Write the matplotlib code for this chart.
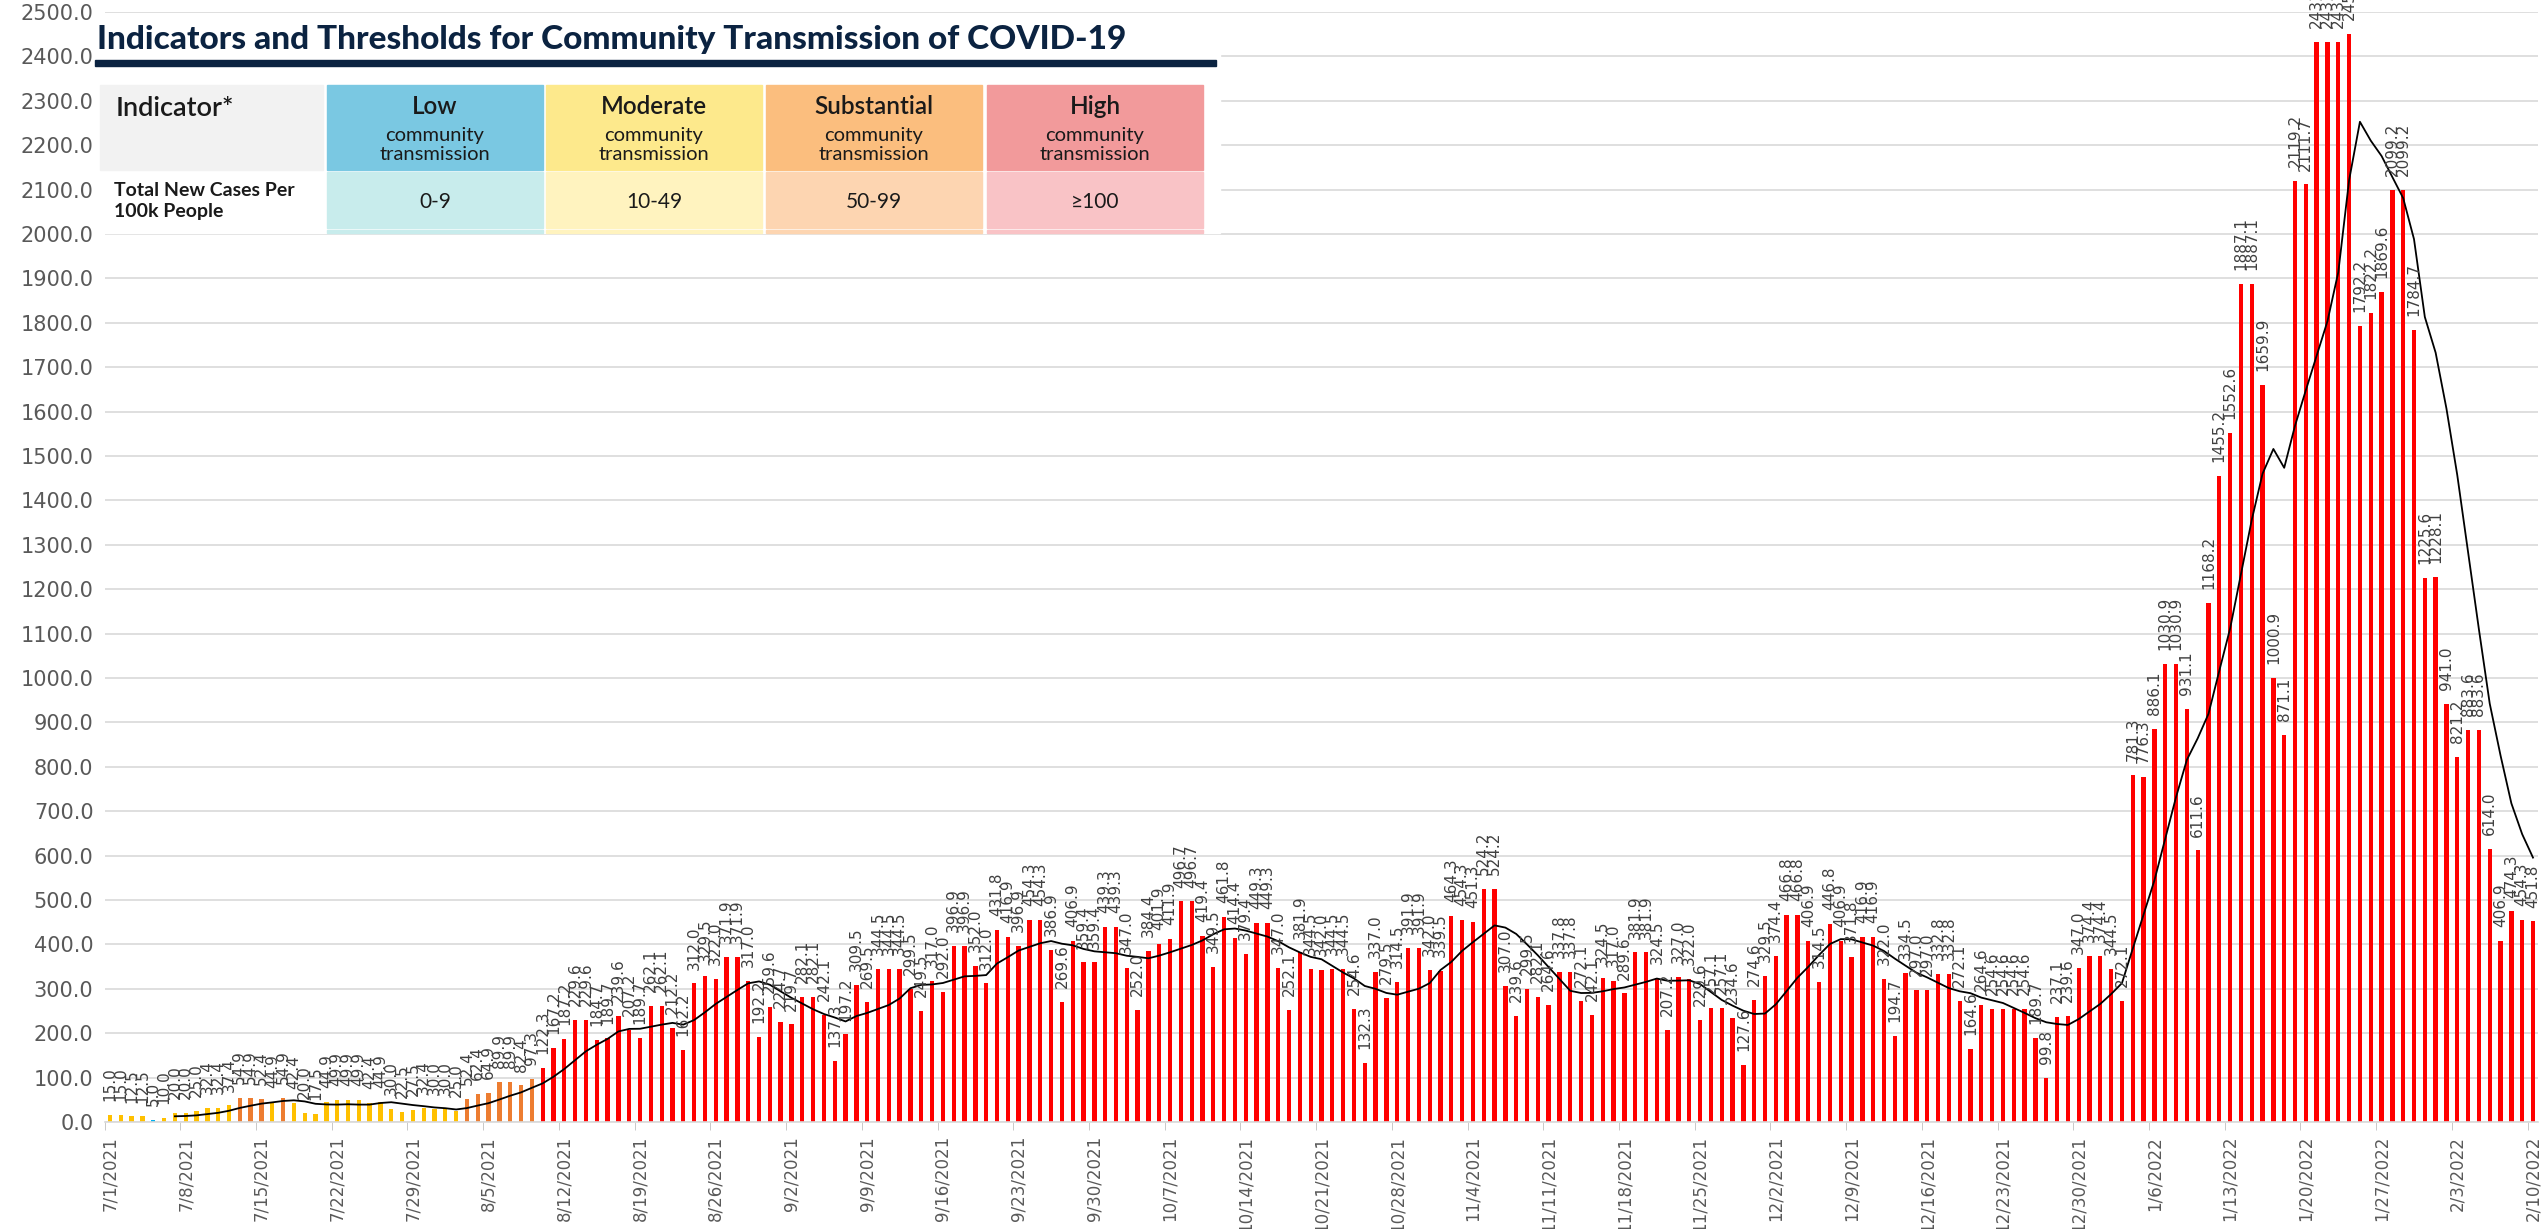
import numpy as np
import pandas as pd
import matplotlib
matplotlib.use('Agg')
import matplotlib.pyplot as plt
from matplotlib.patches import Rectangle

# daily new cases per 100k, 7/1/2021 - 2/10/2022
start_date = '2021-07-01'
end_date = '2022-02-10'
cases = [
    15.0, 15.0, 12.5, 12.5, 5.0, 10.0, 20.0, 20.0, 25.0, 32.4,
    32.4, 37.4, 54.9, 54.9, 52.4, 44.9, 54.9, 42.4, 20.0, 17.5,
    44.9, 49.9, 49.9, 49.9, 42.4, 44.9, 30.0, 22.5, 27.5, 32.4,
    30.0, 30.0, 25.0, 52.4, 62.4, 64.9, 89.9, 89.9, 82.4,
    97.3, 122.3, 167.2, 187.2, 229.6, 229.6, 184.7, 189.7, 239.6, 207.2,
    189.7, 262.1, 262.1, 212.2, 162.2, 312.0, 329.5, 322.0, 371.9, 371.9,
    317.0, 192.2, 259.6, 224.7, 219.7, 282.1, 282.1, 242.1, 137.3, 197.2,
    309.5, 269.5, 344.5, 344.5, 344.5, 299.5, 249.5, 317.0, 292.0, 396.9,
    396.9, 352.0, 312.0, 431.8, 416.9, 396.9, 454.3, 454.3, 386.9, 269.6,
    406.9, 359.4, 359.4, 439.3, 439.3, 347.0, 252.0, 384.4, 401.9, 411.9,
    496.7, 496.7, 419.4, 349.5, 461.8, 414.4, 379.4, 449.3, 449.3, 347.0,
    252.1, 381.9, 344.5, 342.0, 344.5, 344.5, 254.6, 132.3, 337.0, 279.5,
    314.5, 391.9, 391.9, 342.0, 339.5, 464.3, 454.3, 451.3, 524.2, 524.2,
    307.0, 239.6, 299.5, 282.1, 264.6, 337.8, 337.8, 272.1, 242.1, 324.5,
    317.0, 289.6, 381.9, 381.9, 324.5, 207.2, 327.0, 322.0, 229.6, 257.1,
    257.1, 234.6, 127.6, 274.6, 329.5, 374.4, 466.8, 466.8, 406.9, 314.5,
    446.8, 406.9, 371.8, 416.9, 416.9, 322.0, 194.7, 334.5, 297.0, 297.0,
    332.8, 332.8, 272.1, 164.6, 264.6, 254.6, 254.6, 254.6, 254.6, 189.7,
    99.8, 237.1, 239.6, 347.0, 374.4, 374.4, 344.5, 272.1, 781.3, 776.3,
    886.1, 1030.9, 1030.9, 931.1, 611.6, 1168.2, 1455.2, 1552.6, 1887.1, 1887.1,
    1659.9, 1000.9, 871.1, 2119.2, 2111.7, 2431.6, 2431.6, 2431.6, 2451.4, 1792.2,
    1822.2, 1869.6, 2099.2, 2099.2, 1784.7, 1225.6, 1228.1, 941.0, 821.2, 883.6,
    883.6, 614.0, 406.9, 474.3, 454.3, 451.8,
]

levels = ['Low', 'Moderate', 'Substantial', 'High']
level_ranges = ['0-9', '10-49', '50-99', '\u2265100']
head_colors = ['#7ac8e2', '#fde98c', '#fbbe7e', '#f29a9b']
row_colors = ['#c8ecec', '#fff3bf', '#fdd5b1', '#f9c3c6']
bar_colors = ['#00b0f0', '#ffc000', '#ed7d31', '#ff0000']

W, H = 2547, 1229
fig = plt.figure(figsize=(W / 100, H / 100), dpi=100)

dates = pd.date_range(start_date, end_date, freq='D')
x = np.arange(len(cases))
avg7 = pd.Series(cases).rolling(7).mean()


def pick(v):
    if v < 10:
        return bar_colors[0]
    if v < 50:
        return bar_colors[1]
    if v < 99.5:
        return bar_colors[2]
    return bar_colors[3]


ax = fig.add_axes([104.6 / W, 1 - 1122 / H, 2433.8 / W, 1110 / H])
ax.bar(x, cases, width=0.4, color=[pick(v) for v in cases], zorder=2)
ax.plot(x, avg7, color='black', lw=1.3, zorder=3)
for xi, v in zip(x, cases):
    ax.annotate(f'{v:.1f}', (xi, v), xytext=(0, 10), textcoords='offset points',
                rotation=90, ha='center', va='bottom', fontsize=11,
                color='#404040', annotation_clip=False)

ax.set_xlim(-0.5, len(cases) - 0.5)
ax.set_ylim(0, 2500)
ax.set_yticks(np.arange(0, 2501, 100))
ax.set_yticklabels([f'{v:.1f}' for v in np.arange(0, 2501, 100)])
ax.set_xticks(x[::7])
ax.set_xticklabels([f'{d.month}/{d.day}/{d.year}' for d in dates[::7]], rotation=90)
ax.set_xticks(x[::7] - 0.5, minor=True)
ax.tick_params(axis='x', which='major', length=0, labelsize=12, labelcolor='#595959', pad=10)
ax.tick_params(axis='x', which='minor', length=6, color='#bfbfbf')
ax.tick_params(axis='y', length=0, labelsize=15, labelcolor='#595959', pad=8)
ax.yaxis.grid(True, color='#d9d9d9', lw=1.2)
ax.set_axisbelow(True)
for s in ['top', 'right', 'left']:
    ax.spines[s].set_visible(False)
ax.spines['bottom'].set_color('#d9d9d9')
ax.spines['bottom'].set_linewidth(1.2)

# table picture over the top left of the plot
ov = fig.add_axes([0, 0, 1, 1], zorder=5)
ov.set_xlim(0, W)
ov.set_ylim(H, 0)
ov.axis('off')
ov.add_patch(Rectangle((94, 15), 1126, 218, color='white'))
ov.text(97, 40, 'Indicators and Thresholds for Community Transmission of COVID-19',
        family='Lato', fontweight='black', fontsize=24, color='#0b2341', va='center')
ov.add_patch(Rectangle((95, 60), 1121, 6, color='#0b2341'))

ov.add_patch(Rectangle((100, 85), 223, 85, color='#f2f2f2'))
ov.text(116, 108, 'Indicator*', family='Lato', fontweight='semibold', fontsize=19.5,
        color='#1a1a1a', va='center')
ov.text(114, 201, 'Total New Cases Per\n100k People', family='Lato', fontweight='bold',
        fontsize=14, color='#1a1a1a', va='center', linespacing=1.3)

col_left = [327, 546, 766, 987]
for i in range(4):
    cx = col_left[i] + 108
    ov.add_patch(Rectangle((col_left[i], 85), 216, 85, color=head_colors[i]))
    ov.add_patch(Rectangle((col_left[i], 172), 216, 56, color=row_colors[i]))
    ov.add_patch(Rectangle((col_left[i], 230), 216, 3, color=row_colors[i]))
    ov.text(cx, 106, levels[i], family='Lato', fontweight='semibold', fontsize=17.5,
            color='#1a1a1a', ha='center', va='center')
    ov.text(cx, 145, 'community\ntransmission', family='Lato', fontsize=14.5,
            color='#1a1a1a', ha='center', va='center', linespacing=1.1)
    ov.text(cx, 202, level_ranges[i], family=['Lato', 'DejaVu Sans'], fontsize=15,
            color='#1a1a1a', ha='center', va='center')

fig.savefig('out.png', dpi=100, facecolor='white')
